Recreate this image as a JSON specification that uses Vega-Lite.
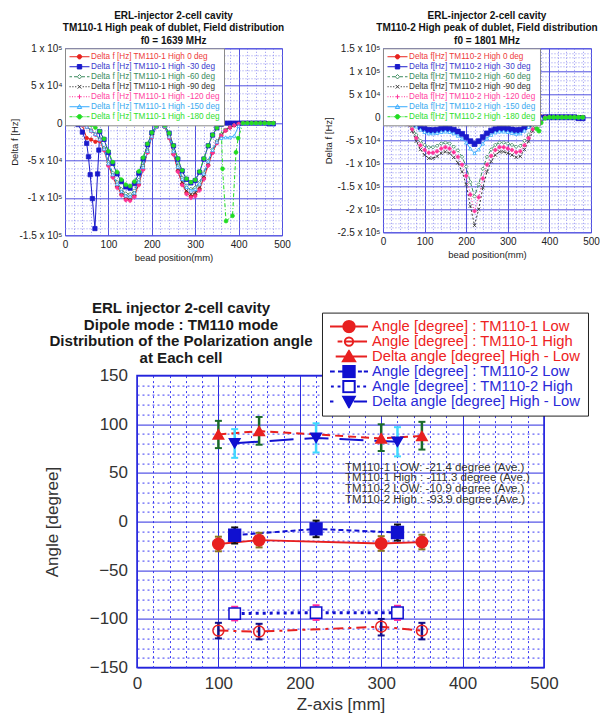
{
"$schema": "https://vega.github.io/schema/vega-lite/v6.json",
"background": "white",
"padding": {"left": 7, "top": 10.3, "right": 0, "bottom": 0},
"config": {"font": "Liberation Sans"},
"datasets": {
"tl": [
{"s":"0","x":0,"y":0},{"s":"0","x":10,"y":0},{"s":"0","x":20,"y":0},{"s":"0","x":30,"y":-500},{"s":"0","x":40,"y":-3000},{"s":"0","x":50,"y":-20000},{"s":"0","x":60,"y":-22000},{"s":"0","x":70,"y":-25000},{"s":"0","x":80,"y":-24000},{"s":"0","x":90,"y":-36000},{"s":"0","x":100,"y":-56100},{"s":"0","x":110,"y":-71400},{"s":"0","x":120,"y":-84700},{"s":"0","x":130,"y":-94900},{"s":"0","x":140,"y":-101000},{"s":"0","x":150,"y":-102000},{"s":"0","x":160,"y":-96900},{"s":"0","x":170,"y":-81600},{"s":"0","x":180,"y":-61200},{"s":"0","x":190,"y":-38800},{"s":"0","x":200,"y":-18400},{"s":"0","x":210,"y":-5100},{"s":"0","x":220,"y":0},{"s":"0","x":230,"y":-4900},{"s":"0","x":240,"y":-19600},{"s":"0","x":250,"y":-41200},{"s":"0","x":260,"y":-63700},{"s":"0","x":270,"y":-81300},{"s":"0","x":280,"y":-93100},{"s":"0","x":290,"y":-98000},{"s":"0","x":300,"y":-96000},{"s":"0","x":310,"y":-88200},{"s":"0","x":320,"y":-73500},{"s":"0","x":330,"y":-55900},{"s":"0","x":340,"y":-39200},{"s":"0","x":350,"y":-26500},{"s":"0","x":360,"y":-16700},{"s":"0","x":370,"y":-9800},{"s":"0","x":380,"y":-5900},{"s":"0","x":390,"y":-2900},{"s":"0","x":400,"y":-1000},{"s":"0","x":410,"y":0},{"s":"0","x":420,"y":0},{"s":"0","x":430,"y":0},{"s":"0","x":440,"y":0},{"s":"0","x":450,"y":0},{"s":"0","x":460,"y":0},{"s":"0","x":470,"y":0},{"s":"0","x":480,"y":0},
{"s":"-30","x":0,"y":0},{"s":"-30","x":10,"y":0},{"s":"-30","x":20,"y":0},{"s":"-30","x":30,"y":-2000},{"s":"-30","x":40,"y":-12000},{"s":"-30","x":50,"y":-27000},{"s":"-30","x":54,"y":-45000},{"s":"-30","x":58,"y":-69000},{"s":"-30","x":63,"y":-101000},{"s":"-30","x":69,"y":-141000},{"s":"-30","x":75,"y":-68000},{"s":"-30","x":78,"y":-36000},{"s":"-30","x":80,"y":-11300},{"s":"-30","x":90,"y":-21800},{"s":"-30","x":100,"y":-39200},{"s":"-30","x":110,"y":-53900},{"s":"-30","x":120,"y":-67900},{"s":"-30","x":130,"y":-78300},{"s":"-30","x":140,"y":-85300},{"s":"-30","x":150,"y":-87000},{"s":"-30","x":160,"y":-80900},{"s":"-30","x":170,"y":-67000},{"s":"-30","x":180,"y":-47900},{"s":"-30","x":190,"y":-28700},{"s":"-30","x":200,"y":-13100},{"s":"-30","x":210,"y":-3500},{"s":"-30","x":220,"y":0},{"s":"-30","x":230,"y":-3200},{"s":"-30","x":240,"y":-13600},{"s":"-30","x":250,"y":-30400},{"s":"-30","x":260,"y":-48000},{"s":"-30","x":270,"y":-64000},{"s":"-30","x":280,"y":-75200},{"s":"-30","x":290,"y":-80000},{"s":"-30","x":300,"y":-76800},{"s":"-30","x":310,"y":-65600},{"s":"-30","x":320,"y":-48000},{"s":"-30","x":330,"y":-30400},{"s":"-30","x":340,"y":-16000},{"s":"-30","x":350,"y":-6400},{"s":"-30","x":360,"y":-1600},{"s":"-30","x":370,"y":0},{"s":"-30","x":380,"y":0},{"s":"-30","x":390,"y":0},{"s":"-30","x":400,"y":0},{"s":"-30","x":410,"y":0},{"s":"-30","x":420,"y":0},{"s":"-30","x":430,"y":0},{"s":"-30","x":440,"y":0},{"s":"-30","x":450,"y":0},{"s":"-30","x":460,"y":0},{"s":"-30","x":470,"y":-1000},{"s":"-30","x":480,"y":-1000},
{"s":"-60","x":0,"y":0},{"s":"-60","x":10,"y":0},{"s":"-60","x":20,"y":0},{"s":"-60","x":30,"y":0},{"s":"-60","x":40,"y":-1900},{"s":"-60","x":50,"y":-4800},{"s":"-60","x":60,"y":-9500},{"s":"-60","x":70,"y":-14300},{"s":"-60","x":80,"y":-20900},{"s":"-60","x":90,"y":-33300},{"s":"-60","x":100,"y":-52300},{"s":"-60","x":110,"y":-66500},{"s":"-60","x":120,"y":-78900},{"s":"-60","x":130,"y":-88400},{"s":"-60","x":140,"y":-94100},{"s":"-60","x":150,"y":-95000},{"s":"-60","x":160,"y":-90300},{"s":"-60","x":170,"y":-76000},{"s":"-60","x":180,"y":-57000},{"s":"-60","x":190,"y":-36100},{"s":"-60","x":200,"y":-17100},{"s":"-60","x":210,"y":-4800},{"s":"-60","x":220,"y":0},{"s":"-60","x":230,"y":-4400},{"s":"-60","x":240,"y":-17600},{"s":"-60","x":250,"y":-37000},{"s":"-60","x":260,"y":-57200},{"s":"-60","x":270,"y":-73000},{"s":"-60","x":280,"y":-83600},{"s":"-60","x":290,"y":-88000},{"s":"-60","x":300,"y":-86200},{"s":"-60","x":310,"y":-79200},{"s":"-60","x":320,"y":-66000},{"s":"-60","x":330,"y":-50200},{"s":"-60","x":340,"y":-35200},{"s":"-60","x":350,"y":-23800},{"s":"-60","x":360,"y":-15000},{"s":"-60","x":370,"y":-8800},{"s":"-60","x":380,"y":-5300},{"s":"-60","x":390,"y":-2600},{"s":"-60","x":400,"y":-900},{"s":"-60","x":410,"y":0},{"s":"-60","x":420,"y":0},{"s":"-60","x":430,"y":0},{"s":"-60","x":440,"y":0},{"s":"-60","x":450,"y":0},{"s":"-60","x":460,"y":0},{"s":"-60","x":470,"y":0},{"s":"-60","x":480,"y":0},
{"s":"-90","x":0,"y":0},{"s":"-90","x":10,"y":0},{"s":"-90","x":20,"y":0},{"s":"-90","x":30,"y":0},{"s":"-90","x":40,"y":-2000},{"s":"-90","x":50,"y":-5000},{"s":"-90","x":60,"y":-10000},{"s":"-90","x":70,"y":-15000},{"s":"-90","x":80,"y":-22000},{"s":"-90","x":90,"y":-35000},{"s":"-90","x":100,"y":-55000},{"s":"-90","x":110,"y":-70000},{"s":"-90","x":120,"y":-83000},{"s":"-90","x":130,"y":-93000},{"s":"-90","x":140,"y":-99000},{"s":"-90","x":150,"y":-100000},{"s":"-90","x":160,"y":-95000},{"s":"-90","x":170,"y":-80000},{"s":"-90","x":180,"y":-60000},{"s":"-90","x":190,"y":-38000},{"s":"-90","x":200,"y":-18000},{"s":"-90","x":210,"y":-5000},{"s":"-90","x":220,"y":0},{"s":"-90","x":230,"y":-4800},{"s":"-90","x":240,"y":-19000},{"s":"-90","x":250,"y":-39900},{"s":"-90","x":260,"y":-61800},{"s":"-90","x":270,"y":-78900},{"s":"-90","x":280,"y":-90300},{"s":"-90","x":290,"y":-95000},{"s":"-90","x":300,"y":-93100},{"s":"-90","x":310,"y":-85500},{"s":"-90","x":320,"y":-71300},{"s":"-90","x":330,"y":-54200},{"s":"-90","x":340,"y":-38000},{"s":"-90","x":350,"y":-25700},{"s":"-90","x":360,"y":-16200},{"s":"-90","x":370,"y":-9500},{"s":"-90","x":380,"y":-5700},{"s":"-90","x":390,"y":-2900},{"s":"-90","x":400,"y":-1000},{"s":"-90","x":410,"y":0},{"s":"-90","x":420,"y":0},{"s":"-90","x":430,"y":0},{"s":"-90","x":440,"y":0},{"s":"-90","x":450,"y":0},{"s":"-90","x":460,"y":0},{"s":"-90","x":470,"y":0},{"s":"-90","x":480,"y":0},
{"s":"-120","x":0,"y":0},{"s":"-120","x":10,"y":0},{"s":"-120","x":20,"y":0},{"s":"-120","x":30,"y":0},{"s":"-120","x":40,"y":-2100},{"s":"-120","x":50,"y":-5200},{"s":"-120","x":60,"y":-10400},{"s":"-120","x":70,"y":-15600},{"s":"-120","x":80,"y":-22900},{"s":"-120","x":90,"y":-36400},{"s":"-120","x":100,"y":-57200},{"s":"-120","x":110,"y":-72800},{"s":"-120","x":120,"y":-86300},{"s":"-120","x":130,"y":-96700},{"s":"-120","x":140,"y":-103000},{"s":"-120","x":150,"y":-104000},{"s":"-120","x":160,"y":-98800},{"s":"-120","x":170,"y":-83200},{"s":"-120","x":180,"y":-62400},{"s":"-120","x":190,"y":-39500},{"s":"-120","x":200,"y":-18700},{"s":"-120","x":210,"y":-5200},{"s":"-120","x":220,"y":0},{"s":"-120","x":230,"y":-5000},{"s":"-120","x":240,"y":-20000},{"s":"-120","x":250,"y":-42000},{"s":"-120","x":260,"y":-65000},{"s":"-120","x":270,"y":-83000},{"s":"-120","x":280,"y":-95000},{"s":"-120","x":290,"y":-100000},{"s":"-120","x":300,"y":-98000},{"s":"-120","x":310,"y":-90000},{"s":"-120","x":320,"y":-75000},{"s":"-120","x":330,"y":-57000},{"s":"-120","x":340,"y":-40000},{"s":"-120","x":350,"y":-27000},{"s":"-120","x":360,"y":-17000},{"s":"-120","x":370,"y":-10000},{"s":"-120","x":380,"y":-6000},{"s":"-120","x":390,"y":-3000},{"s":"-120","x":400,"y":-1000},{"s":"-120","x":410,"y":0},{"s":"-120","x":420,"y":0},{"s":"-120","x":430,"y":0},{"s":"-120","x":440,"y":0},{"s":"-120","x":450,"y":0},{"s":"-120","x":460,"y":0},{"s":"-120","x":470,"y":0},{"s":"-120","x":480,"y":0},
{"s":"-150","x":0,"y":0},{"s":"-150","x":10,"y":0},{"s":"-150","x":20,"y":0},{"s":"-150","x":30,"y":0},{"s":"-150","x":40,"y":-2000},{"s":"-150","x":50,"y":-4900},{"s":"-150","x":60,"y":-9800},{"s":"-150","x":70,"y":-14700},{"s":"-150","x":80,"y":-21600},{"s":"-150","x":90,"y":-34300},{"s":"-150","x":100,"y":-53900},{"s":"-150","x":110,"y":-68600},{"s":"-150","x":120,"y":-81300},{"s":"-150","x":130,"y":-91100},{"s":"-150","x":140,"y":-97000},{"s":"-150","x":150,"y":-98000},{"s":"-150","x":160,"y":-93100},{"s":"-150","x":170,"y":-78400},{"s":"-150","x":180,"y":-58800},{"s":"-150","x":190,"y":-37200},{"s":"-150","x":200,"y":-17600},{"s":"-150","x":210,"y":-4900},{"s":"-150","x":220,"y":0},{"s":"-150","x":230,"y":-4500},{"s":"-150","x":240,"y":-18000},{"s":"-150","x":250,"y":-37800},{"s":"-150","x":260,"y":-58500},{"s":"-150","x":270,"y":-74700},{"s":"-150","x":280,"y":-85500},{"s":"-150","x":290,"y":-90000},{"s":"-150","x":300,"y":-88200},{"s":"-150","x":310,"y":-81000},{"s":"-150","x":320,"y":-67500},{"s":"-150","x":330,"y":-51300},{"s":"-150","x":340,"y":-36000},{"s":"-150","x":350,"y":-25000},{"s":"-150","x":360,"y":-20000},{"s":"-150","x":370,"y":-19000},{"s":"-150","x":380,"y":-19000},{"s":"-150","x":390,"y":-17000},{"s":"-150","x":400,"y":-4000},{"s":"-150","x":410,"y":0},{"s":"-150","x":420,"y":0},{"s":"-150","x":430,"y":0},{"s":"-150","x":440,"y":0},{"s":"-150","x":450,"y":0},{"s":"-150","x":460,"y":0},{"s":"-150","x":470,"y":0},{"s":"-150","x":480,"y":0},
{"s":"-180","x":0,"y":0},{"s":"-180","x":10,"y":0},{"s":"-180","x":20,"y":0},{"s":"-180","x":30,"y":0},{"s":"-180","x":40,"y":0},{"s":"-180","x":50,"y":-800},{"s":"-180","x":60,"y":-2500},{"s":"-180","x":70,"y":-5900},{"s":"-180","x":80,"y":-10900},{"s":"-180","x":90,"y":-21000},{"s":"-180","x":100,"y":-37800},{"s":"-180","x":110,"y":-52100},{"s":"-180","x":120,"y":-65500},{"s":"-180","x":130,"y":-75600},{"s":"-180","x":140,"y":-82300},{"s":"-180","x":150,"y":-84000},{"s":"-180","x":160,"y":-78100},{"s":"-180","x":170,"y":-64700},{"s":"-180","x":180,"y":-46200},{"s":"-180","x":190,"y":-27700},{"s":"-180","x":200,"y":-12600},{"s":"-180","x":210,"y":-3400},{"s":"-180","x":220,"y":0},{"s":"-180","x":230,"y":-3200},{"s":"-180","x":240,"y":-13400},{"s":"-180","x":250,"y":-30000},{"s":"-180","x":260,"y":-47400},{"s":"-180","x":270,"y":-63200},{"s":"-180","x":280,"y":-74300},{"s":"-180","x":290,"y":-79000},{"s":"-180","x":300,"y":-75800},{"s":"-180","x":310,"y":-64800},{"s":"-180","x":320,"y":-47400},{"s":"-180","x":330,"y":-30000},{"s":"-180","x":340,"y":-15800},{"s":"-180","x":350,"y":-6300},{"s":"-180","x":360,"y":-1600},{"s":"-180","x":363,"y":-61000},{"s":"-180","x":371,"y":-131000},{"s":"-180","x":386,"y":-124000},{"s":"-180","x":394,"y":-39000},{"s":"-180","x":399,"y":-20000},{"s":"-180","x":410,"y":0},{"s":"-180","x":420,"y":0},{"s":"-180","x":430,"y":0},{"s":"-180","x":440,"y":0},{"s":"-180","x":450,"y":0},{"s":"-180","x":460,"y":0},{"s":"-180","x":470,"y":0},{"s":"-180","x":480,"y":0}
],
"tr": [
{"s":"0","x":0,"y":0},{"s":"0","x":10,"y":0},{"s":"0","x":20,"y":0},{"s":"0","x":30,"y":-500},{"s":"0","x":40,"y":-1000},{"s":"0","x":50,"y":-1500},{"s":"0","x":60,"y":-2000},{"s":"0","x":70,"y":-2500},{"s":"0","x":80,"y":-3000},{"s":"0","x":90,"y":-3000},{"s":"0","x":100,"y":-3500},{"s":"0","x":110,"y":-4000},{"s":"0","x":120,"y":-4000},{"s":"0","x":130,"y":-3500},{"s":"0","x":140,"y":-3000},{"s":"0","x":150,"y":-2500},{"s":"0","x":160,"y":-3000},{"s":"0","x":170,"y":-3500},{"s":"0","x":180,"y":-4000},{"s":"0","x":190,"y":-4500},{"s":"0","x":200,"y":-5000},{"s":"0","x":210,"y":-5000},{"s":"0","x":220,"y":-5000},{"s":"0","x":230,"y":-4500},{"s":"0","x":240,"y":-4000},{"s":"0","x":250,"y":-3500},{"s":"0","x":260,"y":-3000},{"s":"0","x":270,"y":-3000},{"s":"0","x":280,"y":-3000},{"s":"0","x":290,"y":-3500},{"s":"0","x":300,"y":-4000},{"s":"0","x":310,"y":-4000},{"s":"0","x":320,"y":-4000},{"s":"0","x":330,"y":-3500},{"s":"0","x":340,"y":-3000},{"s":"0","x":350,"y":-2000},{"s":"0","x":360,"y":-1000},{"s":"0","x":370,"y":-500},{"s":"0","x":380,"y":2000},{"s":"0","x":390,"y":1000},{"s":"0","x":400,"y":0},{"s":"0","x":410,"y":0},{"s":"0","x":420,"y":0},{"s":"0","x":430,"y":0},{"s":"0","x":440,"y":0},{"s":"0","x":450,"y":0},{"s":"0","x":460,"y":0},{"s":"0","x":470,"y":0},{"s":"0","x":480,"y":0},
{"s":"-30","x":0,"y":0},{"s":"-30","x":10,"y":0},{"s":"-30","x":20,"y":0},{"s":"-30","x":30,"y":0},{"s":"-30","x":40,"y":-1000},{"s":"-30","x":50,"y":-2500},{"s":"-30","x":60,"y":-5500},{"s":"-30","x":70,"y":-10000},{"s":"-30","x":80,"y":-16000},{"s":"-30","x":90,"y":-21000},{"s":"-30","x":100,"y":-25000},{"s":"-30","x":110,"y":-27500},{"s":"-30","x":120,"y":-28000},{"s":"-30","x":130,"y":-27000},{"s":"-30","x":140,"y":-25000},{"s":"-30","x":150,"y":-24000},{"s":"-30","x":160,"y":-25000},{"s":"-30","x":170,"y":-27000},{"s":"-30","x":180,"y":-31000},{"s":"-30","x":190,"y":-36000},{"s":"-30","x":200,"y":-43000},{"s":"-30","x":210,"y":-52000},{"s":"-30","x":220,"y":-58000},{"s":"-30","x":230,"y":-52000},{"s":"-30","x":240,"y":-43000},{"s":"-30","x":250,"y":-35000},{"s":"-30","x":260,"y":-29000},{"s":"-30","x":270,"y":-26000},{"s":"-30","x":280,"y":-24000},{"s":"-30","x":290,"y":-24000},{"s":"-30","x":300,"y":-25000},{"s":"-30","x":310,"y":-26500},{"s":"-30","x":320,"y":-28000},{"s":"-30","x":330,"y":-27000},{"s":"-30","x":340,"y":-22000},{"s":"-30","x":350,"y":-16000},{"s":"-30","x":360,"y":-9000},{"s":"-30","x":370,"y":-4000},{"s":"-30","x":380,"y":-1000},{"s":"-30","x":390,"y":0},{"s":"-30","x":400,"y":0},{"s":"-30","x":410,"y":0},{"s":"-30","x":420,"y":0},{"s":"-30","x":430,"y":0},{"s":"-30","x":440,"y":0},{"s":"-30","x":450,"y":0},{"s":"-30","x":460,"y":0},{"s":"-30","x":470,"y":-2000},{"s":"-30","x":480,"y":-2000},
{"s":"-60","x":0,"y":0},{"s":"-60","x":10,"y":0},{"s":"-60","x":20,"y":0},{"s":"-60","x":30,"y":0},{"s":"-60","x":40,"y":-1500},{"s":"-60","x":50,"y":-5000},{"s":"-60","x":60,"y":-12000},{"s":"-60","x":70,"y":-22000},{"s":"-60","x":80,"y":-38000},{"s":"-60","x":90,"y":-51000},{"s":"-60","x":100,"y":-60000},{"s":"-60","x":110,"y":-65000},{"s":"-60","x":120,"y":-65000},{"s":"-60","x":130,"y":-62000},{"s":"-60","x":140,"y":-57000},{"s":"-60","x":150,"y":-55000},{"s":"-60","x":160,"y":-57000},{"s":"-60","x":170,"y":-64000},{"s":"-60","x":180,"y":-72000},{"s":"-60","x":190,"y":-86000},{"s":"-60","x":200,"y":-107000},{"s":"-60","x":210,"y":-141000},{"s":"-60","x":220,"y":-172000},{"s":"-60","x":230,"y":-146000},{"s":"-60","x":240,"y":-112000},{"s":"-60","x":250,"y":-86000},{"s":"-60","x":260,"y":-70000},{"s":"-60","x":270,"y":-60000},{"s":"-60","x":280,"y":-55000},{"s":"-60","x":290,"y":-55000},{"s":"-60","x":300,"y":-57000},{"s":"-60","x":310,"y":-60000},{"s":"-60","x":320,"y":-64000},{"s":"-60","x":330,"y":-62000},{"s":"-60","x":340,"y":-51000},{"s":"-60","x":350,"y":-38000},{"s":"-60","x":360,"y":-22000},{"s":"-60","x":370,"y":-10000},{"s":"-60","x":380,"y":-4000},{"s":"-60","x":390,"y":0},{"s":"-60","x":400,"y":0},{"s":"-60","x":410,"y":0},{"s":"-60","x":420,"y":0},{"s":"-60","x":430,"y":0},{"s":"-60","x":440,"y":0},{"s":"-60","x":450,"y":0},{"s":"-60","x":460,"y":0},{"s":"-60","x":470,"y":0},{"s":"-60","x":480,"y":0},
{"s":"-90","x":0,"y":0},{"s":"-90","x":10,"y":0},{"s":"-90","x":20,"y":0},{"s":"-90","x":30,"y":0},{"s":"-90","x":40,"y":-2000},{"s":"-90","x":50,"y":-7000},{"s":"-90","x":60,"y":-16000},{"s":"-90","x":70,"y":-30000},{"s":"-90","x":80,"y":-52000},{"s":"-90","x":90,"y":-70000},{"s":"-90","x":100,"y":-82000},{"s":"-90","x":110,"y":-89000},{"s":"-90","x":120,"y":-89000},{"s":"-90","x":130,"y":-85000},{"s":"-90","x":140,"y":-78000},{"s":"-90","x":150,"y":-75000},{"s":"-90","x":160,"y":-78000},{"s":"-90","x":170,"y":-87000},{"s":"-90","x":180,"y":-99000},{"s":"-90","x":190,"y":-118000},{"s":"-90","x":200,"y":-146000},{"s":"-90","x":210,"y":-193000},{"s":"-90","x":220,"y":-235000},{"s":"-90","x":230,"y":-200000},{"s":"-90","x":240,"y":-153000},{"s":"-90","x":250,"y":-118000},{"s":"-90","x":260,"y":-96000},{"s":"-90","x":270,"y":-82000},{"s":"-90","x":280,"y":-75000},{"s":"-90","x":290,"y":-75000},{"s":"-90","x":300,"y":-78000},{"s":"-90","x":310,"y":-82000},{"s":"-90","x":320,"y":-87000},{"s":"-90","x":330,"y":-85000},{"s":"-90","x":340,"y":-70000},{"s":"-90","x":350,"y":-52000},{"s":"-90","x":360,"y":-30000},{"s":"-90","x":370,"y":-14000},{"s":"-90","x":380,"y":-5000},{"s":"-90","x":390,"y":0},{"s":"-90","x":400,"y":0},{"s":"-90","x":410,"y":0},{"s":"-90","x":420,"y":0},{"s":"-90","x":430,"y":0},{"s":"-90","x":440,"y":0},{"s":"-90","x":450,"y":0},{"s":"-90","x":460,"y":0},{"s":"-90","x":470,"y":0},{"s":"-90","x":480,"y":0},
{"s":"-120","x":0,"y":0},{"s":"-120","x":10,"y":0},{"s":"-120","x":20,"y":0},{"s":"-120","x":30,"y":0},{"s":"-120","x":40,"y":-2000},{"s":"-120","x":50,"y":-6000},{"s":"-120","x":60,"y":-14000},{"s":"-120","x":70,"y":-26000},{"s":"-120","x":80,"y":-45000},{"s":"-120","x":90,"y":-61000},{"s":"-120","x":100,"y":-71000},{"s":"-120","x":110,"y":-77000},{"s":"-120","x":120,"y":-77000},{"s":"-120","x":130,"y":-74000},{"s":"-120","x":140,"y":-68000},{"s":"-120","x":150,"y":-65000},{"s":"-120","x":160,"y":-68000},{"s":"-120","x":170,"y":-76000},{"s":"-120","x":180,"y":-86000},{"s":"-120","x":190,"y":-103000},{"s":"-120","x":200,"y":-127000},{"s":"-120","x":210,"y":-168000},{"s":"-120","x":220,"y":-204000},{"s":"-120","x":230,"y":-174000},{"s":"-120","x":240,"y":-133000},{"s":"-120","x":250,"y":-103000},{"s":"-120","x":260,"y":-84000},{"s":"-120","x":270,"y":-71000},{"s":"-120","x":280,"y":-65000},{"s":"-120","x":290,"y":-65000},{"s":"-120","x":300,"y":-68000},{"s":"-120","x":310,"y":-71000},{"s":"-120","x":320,"y":-76000},{"s":"-120","x":330,"y":-74000},{"s":"-120","x":340,"y":-61000},{"s":"-120","x":350,"y":-45000},{"s":"-120","x":360,"y":-26000},{"s":"-120","x":370,"y":-12000},{"s":"-120","x":380,"y":-4000},{"s":"-120","x":390,"y":0},{"s":"-120","x":400,"y":0},{"s":"-120","x":410,"y":0},{"s":"-120","x":420,"y":0},{"s":"-120","x":430,"y":0},{"s":"-120","x":440,"y":0},{"s":"-120","x":450,"y":0},{"s":"-120","x":460,"y":0},{"s":"-120","x":470,"y":0},{"s":"-120","x":480,"y":0},
{"s":"-150","x":0,"y":0},{"s":"-150","x":10,"y":0},{"s":"-150","x":20,"y":0},{"s":"-150","x":30,"y":0},{"s":"-150","x":40,"y":-1000},{"s":"-150","x":50,"y":-3000},{"s":"-150","x":60,"y":-7000},{"s":"-150","x":70,"y":-12000},{"s":"-150","x":80,"y":-20000},{"s":"-150","x":90,"y":-27000},{"s":"-150","x":100,"y":-32000},{"s":"-150","x":110,"y":-35000},{"s":"-150","x":120,"y":-35000},{"s":"-150","x":130,"y":-34000},{"s":"-150","x":140,"y":-32000},{"s":"-150","x":150,"y":-31000},{"s":"-150","x":160,"y":-32000},{"s":"-150","x":170,"y":-35000},{"s":"-150","x":180,"y":-40000},{"s":"-150","x":190,"y":-46000},{"s":"-150","x":200,"y":-55000},{"s":"-150","x":210,"y":-68000},{"s":"-150","x":220,"y":-78000},{"s":"-150","x":230,"y":-70000},{"s":"-150","x":240,"y":-57000},{"s":"-150","x":250,"y":-46000},{"s":"-150","x":260,"y":-38000},{"s":"-150","x":270,"y":-33000},{"s":"-150","x":280,"y":-31000},{"s":"-150","x":290,"y":-31000},{"s":"-150","x":300,"y":-32000},{"s":"-150","x":310,"y":-34000},{"s":"-150","x":320,"y":-36000},{"s":"-150","x":330,"y":-35000},{"s":"-150","x":340,"y":-29000},{"s":"-150","x":350,"y":-21000},{"s":"-150","x":360,"y":-12000},{"s":"-150","x":370,"y":-6000},{"s":"-150","x":380,"y":-2000},{"s":"-150","x":390,"y":0},{"s":"-150","x":400,"y":0},{"s":"-150","x":410,"y":0},{"s":"-150","x":420,"y":0},{"s":"-150","x":430,"y":0},{"s":"-150","x":440,"y":0},{"s":"-150","x":450,"y":0},{"s":"-150","x":460,"y":0},{"s":"-150","x":470,"y":0},{"s":"-150","x":480,"y":0},
{"s":"-180","x":0,"y":-1000},{"s":"-180","x":10,"y":-1500},{"s":"-180","x":20,"y":-2000},{"s":"-180","x":30,"y":-3000},{"s":"-180","x":40,"y":-4000},{"s":"-180","x":50,"y":-6000},{"s":"-180","x":60,"y":-8000},{"s":"-180","x":70,"y":-9000},{"s":"-180","x":80,"y":-9000},{"s":"-180","x":90,"y":-8000},{"s":"-180","x":100,"y":-6000},{"s":"-180","x":110,"y":-7000},{"s":"-180","x":120,"y":-10000},{"s":"-180","x":130,"y":-11000},{"s":"-180","x":140,"y":-9000},{"s":"-180","x":150,"y":-6000},{"s":"-180","x":160,"y":-5000},{"s":"-180","x":170,"y":-7000},{"s":"-180","x":180,"y":-10000},{"s":"-180","x":190,"y":-11000},{"s":"-180","x":200,"y":-9000},{"s":"-180","x":210,"y":-6000},{"s":"-180","x":220,"y":-5000},{"s":"-180","x":230,"y":-7000},{"s":"-180","x":240,"y":-10000},{"s":"-180","x":250,"y":-11000},{"s":"-180","x":260,"y":-9000},{"s":"-180","x":270,"y":-6000},{"s":"-180","x":280,"y":-5000},{"s":"-180","x":290,"y":-7000},{"s":"-180","x":300,"y":-10000},{"s":"-180","x":310,"y":-11000},{"s":"-180","x":320,"y":-9000},{"s":"-180","x":330,"y":-6000},{"s":"-180","x":340,"y":-5000},{"s":"-180","x":350,"y":-7000},{"s":"-180","x":360,"y":-9000},{"s":"-180","x":370,"y":-25000},{"s":"-180","x":375,"y":-30000},{"s":"-180","x":380,"y":-12000},{"s":"-180","x":390,"y":-2000},{"s":"-180","x":400,"y":0},{"s":"-180","x":410,"y":0},{"s":"-180","x":420,"y":0},{"s":"-180","x":430,"y":0},{"s":"-180","x":440,"y":0},{"s":"-180","x":450,"y":0},{"s":"-180","x":460,"y":0},{"s":"-180","x":470,"y":0},{"s":"-180","x":480,"y":0}
],
"bot": [
{"s":"1L","z":100,"a":-23,"lo":-30.5,"hi":-15.5},
{"s":"1L","z":150,"a":-19,"lo":-26.5,"hi":-11.5},
{"s":"1L","z":300,"a":-22.5,"lo":-30,"hi":-15},
{"s":"1L","z":350,"a":-21,"lo":-28.5,"hi":-13.5},
{"s":"1H","z":100,"a":-112,"lo":-120,"hi":-104},
{"s":"1H","z":150,"a":-113,"lo":-121,"hi":-105},
{"s":"1H","z":300,"a":-108,"lo":-117,"hi":-100},
{"s":"1H","z":350,"a":-112,"lo":-121,"hi":-104},
{"s":"1D","z":100,"a":89.5,"lo":75.5,"hi":103.5},
{"s":"1D","z":150,"a":93,"lo":79,"hi":107.5},
{"s":"1D","z":300,"a":85.5,"lo":72.5,"hi":100},
{"s":"1D","z":350,"a":88,"lo":74,"hi":102.5},
{"s":"2L","z":120,"a":-14,"lo":-22.5,"hi":-6},
{"s":"2L","z":220,"a":-7.5,"lo":-16,"hi":1},
{"s":"2L","z":320,"a":-11.2,"lo":-19.5,"hi":-3},
{"s":"2H","z":120,"a":-94.5,"lo":-101.5,"hi":-87.5},
{"s":"2H","z":220,"a":-93.5,"lo":-101,"hi":-86},
{"s":"2H","z":320,"a":-93.7,"lo":-101,"hi":-86.5},
{"s":"2D","z":120,"a":80.5,"lo":65.5,"hi":95},
{"s":"2D","z":220,"a":86,"lo":71,"hi":101},
{"s":"2D","z":320,"a":82,"lo":67,"hi":97}
],
"notes": [
{"lines": ["TM110-1 LOW: -21.4 degree (Ave.)", "TM110-1 High : -111.3 degree (Ave.)", "TM110-2 LOW: -10.9 degree (Ave.)", "TM110-2 High : -93.9 degree (Ave.)"]}
]
},
"spacing": 37.3,
"resolve": {"scale": {"color": "independent"}, "legend": {"color": "independent"}},
"vconcat": [
{
"spacing": 0,
"resolve": {"scale": {"color": "independent"}, "legend": {"color": "independent"}},
"hconcat": [
{"width": 1, "height": 10, "view": {"stroke": null}, "data": {"values": []}, "mark": "point"},
{
"spacing": 32,
"resolve": {"scale": {"color": "independent"}, "legend": {"color": "independent"}},
"hconcat": [
{
"width": 217, "height": 187,
"view": {"stroke": "#5050e0", "strokeWidth": 1},
"title": {"text": ["ERL-injector 2-cell cavity", "TM110-1 High peak of dublet, Field distribution", "f0 = 1639 MHz"], "fontSize": 10, "fontWeight": "bold", "lineHeight": 12.3, "offset": -2.3, "color": "#111111"},
"data": {"name": "tl"},
"encoding": {
"x": {"field": "x", "type": "quantitative", "title": "bead position(mm)", "scale": {"domain": [0, 500], "nice": false, "zero": false},
 "axis": {"values": [0,20,40,60,80,100,120,140,160,180,200,220,240,260,280,300,320,340,360,380,400,420,440,460,480,500], "labelExpr": "datum.value % 100 === 0 ? datum.label : ''", "grid": true, "gridColor": {"condition": {"test": "datum.value % 100 === 0", "value": "#5050e0"}, "value": "#9494f2"}, "gridDash": {"condition": {"test": "datum.value % 100 === 0", "value": []}, "value": [1, 2]}, "ticks": false, "domain": false, "labelFontSize": 10, "labelColor": "#222222", "labelPadding": 4, "labelFlush": false, "labelOverlap": false, "titleFontSize": 9.5, "titleFontWeight": "normal", "titleColor": "#222222", "titlePadding": 3}},
"y": {"field": "y", "type": "quantitative", "title": "Delta f [Hz]", "scale": {"domain": [-150000, 100000], "nice": false, "zero": false},
 "axis": {"values": [-150000,-140000,-130000,-120000,-110000,-100000,-90000,-80000,-70000,-60000,-50000,-40000,-30000,-20000,-10000,0,10000,20000,30000,40000,50000,60000,70000,80000,90000,100000], "labelExpr": "datum.value % 50000 !== 0 ? '' : datum.value === 0 ? '0' : abs(datum.value) >= 100000 ? (datum.value / 100000) + ' x 10⁵' : (datum.value / 10000) + ' x 10⁴'", "grid": true, "gridColor": {"condition": {"test": "datum.value % 50000 === 0", "value": "#5050e0"}, "value": "#9494f2"}, "gridDash": {"condition": {"test": "datum.value % 50000 === 0", "value": []}, "value": [1, 2]}, "ticks": false, "domain": false, "labelFontSize": 10, "labelColor": "#222222", "labelPadding": 3, "labelOverlap": false, "labelFlush": false, "titleFontSize": 9.5, "titleFontWeight": "normal", "titleColor": "#222222", "titleX": -46}}
},
"layer": [
{"transform": [{"filter": "datum.s === '0'"}], "mark": {"type": "line", "strokeWidth": 1, "clip": true},
 "encoding": {"color": {"field": "s", "type": "nominal", "scale": {"domain": ["0","-30","-60","-90","-120","-150","-180"], "range": ["#e8231e","#1a1acc","#3a8a5c","#333333","#ff3399","#33aaff","#22dd22"]},
  "legend": {"orient": "top-left", "offset": 0, "title": null, "fillColor": "white", "strokeColor": "#8a8a8a", "padding": 4, "labelFontSize": 8.2, "labelLimit": 300, "labelOffset": 1, "rowPadding": 0, "clipHeight": 8.9, "symbolSize": 400, "symbolStrokeWidth": 1,
   "labelExpr": "'Delta f [Hz] TM110-1 High ' + datum.label + ' deg'",
   "labelColor": {"expr": "['#ee3b3b','#3a3acc','#3a8a5c','#333333','#ff3fa0','#3aaaf0','#2ee02e'][datum.index]"},
   "symbolType": {"expr": "['M-1,0H1M0.22,0A0.22,0.22,0,1,1,-0.22,0A0.22,0.22,0,1,1,0.22,0Z','M-1,0H1M-0.22,-0.22H0.22V0.22H-0.22Z','M-1,0H-0.75M-0.55,0H-0.25M0.25,0H0.55M0.75,0H1M0,-0.22L0.22,0L0,0.22L-0.22,0Z','M-1,0H-0.88M-0.72,0H-0.6M-0.44,0H-0.32M0.32,0H0.44M0.6,0H0.72M0.88,0H1M-0.18,-0.18L0.18,0.18M-0.18,0.18L0.18,-0.18','M-1,0H-0.9M-0.75,0H-0.65M-0.5,0H-0.4M0.4,0H0.5M0.65,0H0.75M0.9,0H1M-0.22,0H0.22M0,-0.22V0.22','M-1,0H1M0,-0.22L0.22,0.17L-0.22,0.17Z','M-1,0H-0.7M-0.6,0H-0.5M-0.4,0H-0.25M0.25,0H0.4M0.5,0H0.6M0.7,0H1M0.22,0A0.22,0.22,0,1,1,-0.22,0A0.22,0.22,0,1,1,0.22,0Z'][datum.index]"},
   "symbolFillColor": {"expr": "['#e8231e','#1a1acc','white','transparent','transparent','white','#22dd22'][datum.index]"}}}}},
{"transform": [{"filter": "datum.s === '-30'"}], "mark": {"type": "line", "strokeWidth": 1, "clip": true}, "encoding": {"color": {"field": "s", "type": "nominal", "scale": {"domain": ["0","-30","-60","-90","-120","-150","-180"], "range": ["#e8231e","#1a1acc","#3a8a5c","#333333","#ff3399","#33aaff","#22dd22"]}}}},
{"transform": [{"filter": "datum.s === '-60'"}], "mark": {"type": "line", "strokeWidth": 1, "strokeDash": [4, 2], "clip": true}, "encoding": {"color": {"field": "s", "type": "nominal", "scale": {"domain": ["0","-30","-60","-90","-120","-150","-180"], "range": ["#e8231e","#1a1acc","#3a8a5c","#333333","#ff3399","#33aaff","#22dd22"]}}}},
{"transform": [{"filter": "datum.s === '-90'"}], "mark": {"type": "line", "strokeWidth": 1, "strokeDash": [2, 2], "clip": true}, "encoding": {"color": {"field": "s", "type": "nominal", "scale": {"domain": ["0","-30","-60","-90","-120","-150","-180"], "range": ["#e8231e","#1a1acc","#3a8a5c","#333333","#ff3399","#33aaff","#22dd22"]}}}},
{"transform": [{"filter": "datum.s === '-120'"}], "mark": {"type": "line", "strokeWidth": 1, "strokeDash": [1, 2], "clip": true}, "encoding": {"color": {"field": "s", "type": "nominal", "scale": {"domain": ["0","-30","-60","-90","-120","-150","-180"], "range": ["#e8231e","#1a1acc","#3a8a5c","#333333","#ff3399","#33aaff","#22dd22"]}}}},
{"transform": [{"filter": "datum.s === '-150'"}], "mark": {"type": "line", "strokeWidth": 1, "clip": true}, "encoding": {"color": {"field": "s", "type": "nominal", "scale": {"domain": ["0","-30","-60","-90","-120","-150","-180"], "range": ["#e8231e","#1a1acc","#3a8a5c","#333333","#ff3399","#33aaff","#22dd22"]}}}},
{"transform": [{"filter": "datum.s === '-180'"}], "mark": {"type": "line", "strokeWidth": 1, "strokeDash": [4, 2, 1, 2], "clip": true}, "encoding": {"color": {"field": "s", "type": "nominal", "scale": {"domain": ["0","-30","-60","-90","-120","-150","-180"], "range": ["#e8231e","#1a1acc","#3a8a5c","#333333","#ff3399","#33aaff","#22dd22"]}}}},
{"transform": [{"filter": "datum.s === '0'"}], "mark": {"type": "point", "shape": "circle", "filled": false, "fill": "#e8231e", "stroke": "#e8231e", "size": 12, "strokeWidth": 0.8, "opacity": 1, "clip": true}},
{"transform": [{"filter": "datum.s === '-30'"}], "mark": {"type": "point", "shape": "square", "filled": false, "fill": "#1a1acc", "stroke": "#1a1acc", "size": 18, "strokeWidth": 0.8, "opacity": 1, "clip": true}},
{"transform": [{"filter": "datum.s === '-60'"}], "mark": {"type": "point", "shape": "diamond", "filled": false, "fill": "white", "stroke": "#3a8a5c", "size": 12, "strokeWidth": 0.8, "opacity": 1, "clip": true}},
{"transform": [{"filter": "datum.s === '-90'"}], "mark": {"type": "point", "shape": "M-1,-1L1,1M-1,1L1,-1", "filled": false, "fill": "transparent", "stroke": "#333333", "size": 12, "strokeWidth": 0.8, "opacity": 1, "clip": true}},
{"transform": [{"filter": "datum.s === '-120'"}], "mark": {"type": "point", "shape": "cross", "filled": false, "fill": "#ff3399", "stroke": "#ff3399", "size": 12, "strokeWidth": 0.6, "opacity": 1, "clip": true}},
{"transform": [{"filter": "datum.s === '-150'"}], "mark": {"type": "point", "shape": "triangle-up", "filled": false, "fill": "white", "stroke": "#33aaff", "size": 12, "strokeWidth": 0.8, "opacity": 1, "clip": true}},
{"transform": [{"filter": "datum.s === '-180'"}], "mark": {"type": "point", "shape": "circle", "filled": false, "fill": "#22dd22", "stroke": "#22dd22", "size": 14, "strokeWidth": 0.8, "opacity": 1, "clip": true}}
]
},
{
"width": 208, "height": 184,
"view": {"stroke": "#5050e0", "strokeWidth": 1},
"title": {"text": ["ERL-injector 2-cell cavity", "TM110-2 High peak of dublet, Field distribution", "f0 = 1801 MHz"], "fontSize": 10, "fontWeight": "bold", "lineHeight": 12.3, "offset": -2.3, "color": "#111111"},
"data": {"name": "tr"},
"encoding": {
"x": {"field": "x", "type": "quantitative", "title": "bead position(mm)", "scale": {"domain": [0, 500], "nice": false, "zero": false},
 "axis": {"values": [0,20,40,60,80,100,120,140,160,180,200,220,240,260,280,300,320,340,360,380,400,420,440,460,480,500], "labelExpr": "datum.value % 100 === 0 ? datum.label : ''", "grid": true, "gridColor": {"condition": {"test": "datum.value % 100 === 0", "value": "#5050e0"}, "value": "#9494f2"}, "gridDash": {"condition": {"test": "datum.value % 100 === 0", "value": []}, "value": [1, 2]}, "ticks": false, "domain": false, "labelFontSize": 10, "labelColor": "#222222", "labelPadding": 4, "labelFlush": false, "labelOverlap": false, "titleFontSize": 9.5, "titleFontWeight": "normal", "titleColor": "#222222", "titlePadding": 3}},
"y": {"field": "y", "type": "quantitative", "title": "Delta f [Hz]", "scale": {"domain": [-250000, 150000], "nice": false, "zero": false},
 "axis": {"values": [-250000,-240000,-230000,-220000,-210000,-200000,-190000,-180000,-170000,-160000,-150000,-140000,-130000,-120000,-110000,-100000,-90000,-80000,-70000,-60000,-50000,-40000,-30000,-20000,-10000,0,10000,20000,30000,40000,50000,60000,70000,80000,90000,100000,110000,120000,130000,140000,150000], "labelExpr": "datum.value % 50000 !== 0 ? '' : datum.value === 0 ? '0' : abs(datum.value) >= 100000 ? (datum.value / 100000) + ' x 10⁵' : (datum.value / 10000) + ' x 10⁴'", "grid": true, "gridColor": {"condition": {"test": "datum.value % 50000 === 0", "value": "#5050e0"}, "value": "#9494f2"}, "gridDash": {"condition": {"test": "datum.value % 50000 === 0", "value": []}, "value": [1, 2]}, "ticks": false, "domain": false, "labelFontSize": 10, "labelColor": "#222222", "labelPadding": 3, "labelOverlap": false, "labelFlush": false, "titleFontSize": 9.5, "titleFontWeight": "normal", "titleColor": "#222222", "titleX": -49.5}}
},
"layer": [
{"transform": [{"filter": "datum.s === '0'"}], "mark": {"type": "line", "strokeWidth": 1, "clip": true},
 "encoding": {"color": {"field": "s", "type": "nominal", "scale": {"domain": ["0","-30","-60","-90","-120","-150","-180"], "range": ["#e8231e","#1a1acc","#3a8a5c","#333333","#ff3399","#33aaff","#22dd22"]},
  "legend": {"orient": "top-left", "offset": 0, "title": null, "fillColor": "white", "strokeColor": "#8a8a8a", "padding": 4, "labelFontSize": 8.2, "labelLimit": 300, "labelOffset": 1, "rowPadding": 0, "clipHeight": 8.9, "symbolSize": 400, "symbolStrokeWidth": 1,
   "labelExpr": "'Delta f[Hz] TM110-2 High ' + datum.label + ' deg'",
   "labelColor": {"expr": "['#ee3b3b','#3a3acc','#3a8a5c','#333333','#ff3fa0','#3aaaf0','#2ee02e'][datum.index]"},
   "symbolType": {"expr": "['M-1,0H1M0.22,0A0.22,0.22,0,1,1,-0.22,0A0.22,0.22,0,1,1,0.22,0Z','M-1,0H1M-0.22,-0.22H0.22V0.22H-0.22Z','M-1,0H-0.75M-0.55,0H-0.25M0.25,0H0.55M0.75,0H1M0,-0.22L0.22,0L0,0.22L-0.22,0Z','M-1,0H-0.88M-0.72,0H-0.6M-0.44,0H-0.32M0.32,0H0.44M0.6,0H0.72M0.88,0H1M-0.18,-0.18L0.18,0.18M-0.18,0.18L0.18,-0.18','M-1,0H-0.9M-0.75,0H-0.65M-0.5,0H-0.4M0.4,0H0.5M0.65,0H0.75M0.9,0H1M-0.22,0H0.22M0,-0.22V0.22','M-1,0H1M0,-0.22L0.22,0.17L-0.22,0.17Z','M-1,0H-0.7M-0.6,0H-0.5M-0.4,0H-0.25M0.25,0H0.4M0.5,0H0.6M0.7,0H1M0.22,0A0.22,0.22,0,1,1,-0.22,0A0.22,0.22,0,1,1,0.22,0Z'][datum.index]"},
   "symbolFillColor": {"expr": "['#e8231e','#1a1acc','white','transparent','transparent','white','#22dd22'][datum.index]"}}}}},
{"transform": [{"filter": "datum.s === '-30'"}], "mark": {"type": "line", "strokeWidth": 1, "clip": true}, "encoding": {"color": {"field": "s", "type": "nominal", "scale": {"domain": ["0","-30","-60","-90","-120","-150","-180"], "range": ["#e8231e","#1a1acc","#3a8a5c","#333333","#ff3399","#33aaff","#22dd22"]}}}},
{"transform": [{"filter": "datum.s === '-60'"}], "mark": {"type": "line", "strokeWidth": 1, "strokeDash": [4, 2], "clip": true}, "encoding": {"color": {"field": "s", "type": "nominal", "scale": {"domain": ["0","-30","-60","-90","-120","-150","-180"], "range": ["#e8231e","#1a1acc","#3a8a5c","#333333","#ff3399","#33aaff","#22dd22"]}}}},
{"transform": [{"filter": "datum.s === '-90'"}], "mark": {"type": "line", "strokeWidth": 1, "strokeDash": [2, 2], "clip": true}, "encoding": {"color": {"field": "s", "type": "nominal", "scale": {"domain": ["0","-30","-60","-90","-120","-150","-180"], "range": ["#e8231e","#1a1acc","#3a8a5c","#333333","#ff3399","#33aaff","#22dd22"]}}}},
{"transform": [{"filter": "datum.s === '-120'"}], "mark": {"type": "line", "strokeWidth": 1, "strokeDash": [1, 2], "clip": true}, "encoding": {"color": {"field": "s", "type": "nominal", "scale": {"domain": ["0","-30","-60","-90","-120","-150","-180"], "range": ["#e8231e","#1a1acc","#3a8a5c","#333333","#ff3399","#33aaff","#22dd22"]}}}},
{"transform": [{"filter": "datum.s === '-150'"}], "mark": {"type": "line", "strokeWidth": 1, "clip": true}, "encoding": {"color": {"field": "s", "type": "nominal", "scale": {"domain": ["0","-30","-60","-90","-120","-150","-180"], "range": ["#e8231e","#1a1acc","#3a8a5c","#333333","#ff3399","#33aaff","#22dd22"]}}}},
{"transform": [{"filter": "datum.s === '-180'"}], "mark": {"type": "line", "strokeWidth": 1, "strokeDash": [4, 2, 1, 2], "clip": true}, "encoding": {"color": {"field": "s", "type": "nominal", "scale": {"domain": ["0","-30","-60","-90","-120","-150","-180"], "range": ["#e8231e","#1a1acc","#3a8a5c","#333333","#ff3399","#33aaff","#22dd22"]}}}},
{"transform": [{"filter": "datum.s === '0'"}], "mark": {"type": "point", "shape": "circle", "filled": false, "fill": "#e8231e", "stroke": "#e8231e", "size": 12, "strokeWidth": 0.8, "opacity": 1, "clip": true}},
{"transform": [{"filter": "datum.s === '-30'"}], "mark": {"type": "point", "shape": "square", "filled": false, "fill": "#1a1acc", "stroke": "#1a1acc", "size": 24, "strokeWidth": 0.8, "opacity": 1, "clip": true}},
{"transform": [{"filter": "datum.s === '-60'"}], "mark": {"type": "point", "shape": "diamond", "filled": false, "fill": "white", "stroke": "#3a8a5c", "size": 12, "strokeWidth": 0.8, "opacity": 1, "clip": true}},
{"transform": [{"filter": "datum.s === '-90'"}], "mark": {"type": "point", "shape": "M-1,-1L1,1M-1,1L1,-1", "filled": false, "fill": "transparent", "stroke": "#333333", "size": 12, "strokeWidth": 0.8, "opacity": 1, "clip": true}},
{"transform": [{"filter": "datum.s === '-120'"}], "mark": {"type": "point", "shape": "cross", "filled": false, "fill": "#ff3399", "stroke": "#ff3399", "size": 12, "strokeWidth": 0.6, "opacity": 1, "clip": true}},
{"transform": [{"filter": "datum.s === '-150'"}], "mark": {"type": "point", "shape": "triangle-up", "filled": false, "fill": "white", "stroke": "#33aaff", "size": 12, "strokeWidth": 0.8, "opacity": 1, "clip": true}},
{"transform": [{"filter": "datum.s === '-180'"}], "mark": {"type": "point", "shape": "circle", "filled": false, "fill": "#22dd22", "stroke": "#22dd22", "size": 16, "strokeWidth": 0.8, "opacity": 1, "clip": true}}
]
}
]
}
]
},
{
"spacing": 0,
"resolve": {"scale": {"color": "independent"}, "legend": {"color": "independent"}},
"hconcat": [
{"width": 35, "height": 10, "view": {"stroke": null}, "data": {"values": []}, "mark": "point"},
{
"width": 407, "height": 292,
"view": {"stroke": "#2020d8", "strokeWidth": 1.5},
"title": {"text": ["ERL injector 2-cell cavity", "Dipole mode : TM110 mode", "Distribution of the Polarization angle", "at Each cell"], "fontSize": 15.1, "fontWeight": "bold", "lineHeight": 16.5, "anchor": "start", "frame": "group", "align": "center", "dx": 44, "dy": 54.7, "offset": 1, "color": "#1a1a1a"},
"data": {"name": "bot"},
"layer": [
{
"encoding": {
"x": {"field": "z", "type": "quantitative", "title": "Z-axis [mm]", "scale": {"domain": [0, 500], "nice": false, "zero": false},
 "axis": {"values": [0,20,40,60,80,100,120,140,160,180,200,220,240,260,280,300,320,340,360,380,400,420,440,460,480,500], "labelExpr": "datum.value % 100 === 0 ? datum.label : ''", "grid": true, "gridColor": {"condition": {"test": "datum.value % 100 === 0", "value": "#2a2ae0"}, "value": "#3a3af5"}, "gridDash": {"condition": {"test": "datum.value % 100 === 0", "value": []}, "value": [2, 3]}, "ticks": false, "domain": false, "labelFontSize": 17, "labelColor": "#333333", "labelPadding": 8, "labelFlush": false, "labelOverlap": false, "titleFontSize": 17, "titleFontWeight": "normal", "titleColor": "#333333", "titlePadding": 5}},
"y": {"field": "a", "type": "quantitative", "title": "Angle [degree]", "scale": {"domain": [-150, 150], "nice": false, "zero": false},
 "axis": {"values": [-150,-140,-130,-120,-110,-100,-90,-80,-70,-60,-50,-40,-30,-20,-10,0,10,20,30,40,50,60,70,80,90,100,110,120,130,140,150], "labelExpr": "datum.value % 50 === 0 ? datum.label : ''", "grid": true, "gridColor": {"condition": {"test": "datum.value % 50 === 0", "value": "#2a2ae0"}, "value": "#3a3af5"}, "gridDash": {"condition": {"test": "datum.value % 50 === 0", "value": []}, "value": [2, 3]}, "ticks": false, "domain": false, "labelFontSize": 17, "labelColor": "#333333", "labelPadding": 9.5, "labelOverlap": false, "labelFlush": false, "titleFontSize": 17, "titleFontWeight": "normal", "titleColor": "#333333", "titleX": -76}}
},
"layer": [
{"transform": [{"filter": "datum.s === '1L'"}], "mark": {"type": "line", "strokeWidth": 1.8},
 "encoding": {"color": {"field": "s", "type": "nominal", "scale": {"domain": ["1L","1H","1D","2L","2H","2D"], "range": ["#e82020","#e82020","#e82020","#1010d0","#1010d0","#1010d0"]},
  "legend": {"orient": "none", "legendX": 185, "legendY": -63, "title": null, "fillColor": "white", "strokeColor": "#222222", "padding": 7, "labelFontSize": 14.8, "labelLimit": 400, "labelOffset": 3, "rowPadding": 0, "clipHeight": 14, "symbolSize": 1444, "symbolStrokeWidth": 2,
   "labelExpr": "['Angle [degree] : TM110-1 Low','Angle [degree] : TM110-1 High','Delta angle [degree] High - Low','Angle [degree] : TM110-2 Low','Angle [degree] : TM110-2 High','Delta angle [degree] High - Low'][datum.index]",
   "labelColor": {"expr": "datum.index < 3 ? '#ee2222' : '#2a2ad8'"},
   "symbolType": {"expr": "['M-1,0H1M0.3,0A0.3,0.3,0,1,1,-0.3,0A0.3,0.3,0,1,1,0.3,0Z','M-0.6,0H-0.35M-0.22,0H0.95M0.22,0A0.22,0.22,0,1,1,-0.22,0A0.22,0.22,0,1,1,0.22,0Z','M-0.7,0H-0.2M0.2,0H0.95M0,-0.3L0.32,0.25L-0.32,0.25Z','M-1,0H-0.75M-0.58,0H-0.32M0.47,0H0.68M0.78,0H1M-0.3,-0.3H0.3V0.3H-0.3Z','M-0.95,0H-0.8M-0.6,0H-0.45M0.42,0H0.57M0.75,0H0.9M-0.3,-0.3H0.3V0.3H-0.3Z','M-1,0H-0.82M0.25,0H0.95M-0.3,-0.25L0.3,-0.25L0,0.3Z'][datum.index]"},
   "symbolFillColor": {"expr": "['#e82020','transparent','#e82020','#1010d0','white','#1010d0'][datum.index]"}}}}},
{"transform": [{"filter": "datum.s === '1H'"}], "mark": {"type": "line", "strokeWidth": 2, "strokeDash": [10, 5, 3, 5]}, "encoding": {"color": {"field": "s", "type": "nominal", "scale": {"domain": ["1L","1H","1D","2L","2H","2D"], "range": ["#e82020","#e82020","#e82020","#1010d0","#1010d0","#1010d0"]}}}},
{"transform": [{"filter": "datum.s === '1D'"}], "mark": {"type": "line", "strokeWidth": 2, "strokeDash": [8, 5]}, "encoding": {"color": {"field": "s", "type": "nominal", "scale": {"domain": ["1L","1H","1D","2L","2H","2D"], "range": ["#e82020","#e82020","#e82020","#1010d0","#1010d0","#1010d0"]}}}},
{"transform": [{"filter": "datum.s === '2L'"}], "mark": {"type": "line", "strokeWidth": 2, "strokeDash": [5, 3]}, "encoding": {"color": {"field": "s", "type": "nominal", "scale": {"domain": ["1L","1H","1D","2L","2H","2D"], "range": ["#e82020","#e82020","#e82020","#1010d0","#1010d0","#1010d0"]}}}},
{"transform": [{"filter": "datum.s === '2H'"}], "mark": {"type": "line", "strokeWidth": 3, "strokeDash": [3, 4]}, "encoding": {"color": {"field": "s", "type": "nominal", "scale": {"domain": ["1L","1H","1D","2L","2H","2D"], "range": ["#e82020","#e82020","#e82020","#1010d0","#1010d0","#1010d0"]}}}},
{"transform": [{"filter": "datum.s === '2D'"}], "mark": {"type": "line", "strokeWidth": 2, "strokeDash": [24, 11]}, "encoding": {"color": {"field": "s", "type": "nominal", "scale": {"domain": ["1L","1H","1D","2L","2H","2D"], "range": ["#e82020","#e82020","#e82020","#1010d0","#1010d0","#1010d0"]}}}},
{"transform": [{"filter": "datum.s === '1L'"}], "mark": {"type": "rule", "strokeWidth": 2.5, "color": "#8a7420"}, "encoding": {"y": {"field": "lo", "type": "quantitative", "title": "Angle [degree]"}, "y2": {"field": "hi"}}},
{"transform": [{"filter": "datum.s === '1H'"}], "mark": {"type": "rule", "strokeWidth": 2.5, "color": "#10108a"}, "encoding": {"y": {"field": "lo", "type": "quantitative", "title": "Angle [degree]"}, "y2": {"field": "hi"}}},
{"transform": [{"filter": "datum.s === '1D'"}], "mark": {"type": "rule", "strokeWidth": 2.5, "color": "#1a6a2a"}, "encoding": {"y": {"field": "lo", "type": "quantitative", "title": "Angle [degree]"}, "y2": {"field": "hi"}}},
{"transform": [{"filter": "datum.s === '2L'"}], "mark": {"type": "rule", "strokeWidth": 2.5, "color": "#111111"}, "encoding": {"y": {"field": "lo", "type": "quantitative", "title": "Angle [degree]"}, "y2": {"field": "hi"}}},
{"transform": [{"filter": "datum.s === '2H'"}], "mark": {"type": "rule", "strokeWidth": 2.5, "color": "#ff2a9a"}, "encoding": {"y": {"field": "lo", "type": "quantitative", "title": "Angle [degree]"}, "y2": {"field": "hi"}}},
{"transform": [{"filter": "datum.s === '2D'"}], "mark": {"type": "rule", "strokeWidth": 2.5, "color": "#40d8ff"}, "encoding": {"y": {"field": "lo", "type": "quantitative", "title": "Angle [degree]"}, "y2": {"field": "hi"}}},
{"transform": [{"filter": "datum.s === '1L'"}], "mark": {"type": "tick", "orient": "horizontal", "size": 7, "thickness": 2, "opacity": 1, "color": "#8a7420"}, "encoding": {"y": {"field": "lo", "type": "quantitative", "title": "Angle [degree]"}}},
{"transform": [{"filter": "datum.s === '1L'"}], "mark": {"type": "tick", "orient": "horizontal", "size": 7, "thickness": 2, "opacity": 1, "color": "#8a7420"}, "encoding": {"y": {"field": "hi", "type": "quantitative", "title": "Angle [degree]"}}},
{"transform": [{"filter": "datum.s === '1H'"}], "mark": {"type": "tick", "orient": "horizontal", "size": 7, "thickness": 2, "opacity": 1, "color": "#10108a"}, "encoding": {"y": {"field": "lo", "type": "quantitative", "title": "Angle [degree]"}}},
{"transform": [{"filter": "datum.s === '1H'"}], "mark": {"type": "tick", "orient": "horizontal", "size": 7, "thickness": 2, "opacity": 1, "color": "#10108a"}, "encoding": {"y": {"field": "hi", "type": "quantitative", "title": "Angle [degree]"}}},
{"transform": [{"filter": "datum.s === '1D'"}], "mark": {"type": "tick", "orient": "horizontal", "size": 7, "thickness": 2, "opacity": 1, "color": "#1a6a2a"}, "encoding": {"y": {"field": "lo", "type": "quantitative", "title": "Angle [degree]"}}},
{"transform": [{"filter": "datum.s === '1D'"}], "mark": {"type": "tick", "orient": "horizontal", "size": 7, "thickness": 2, "opacity": 1, "color": "#1a6a2a"}, "encoding": {"y": {"field": "hi", "type": "quantitative", "title": "Angle [degree]"}}},
{"transform": [{"filter": "datum.s === '2L'"}], "mark": {"type": "tick", "orient": "horizontal", "size": 7, "thickness": 2, "opacity": 1, "color": "#111111"}, "encoding": {"y": {"field": "lo", "type": "quantitative", "title": "Angle [degree]"}}},
{"transform": [{"filter": "datum.s === '2L'"}], "mark": {"type": "tick", "orient": "horizontal", "size": 7, "thickness": 2, "opacity": 1, "color": "#111111"}, "encoding": {"y": {"field": "hi", "type": "quantitative", "title": "Angle [degree]"}}},
{"transform": [{"filter": "datum.s === '2H'"}], "mark": {"type": "tick", "orient": "horizontal", "size": 7, "thickness": 2, "opacity": 1, "color": "#ff2a9a"}, "encoding": {"y": {"field": "lo", "type": "quantitative", "title": "Angle [degree]"}}},
{"transform": [{"filter": "datum.s === '2H'"}], "mark": {"type": "tick", "orient": "horizontal", "size": 7, "thickness": 2, "opacity": 1, "color": "#ff2a9a"}, "encoding": {"y": {"field": "hi", "type": "quantitative", "title": "Angle [degree]"}}},
{"transform": [{"filter": "datum.s === '2D'"}], "mark": {"type": "tick", "orient": "horizontal", "size": 7, "thickness": 2, "opacity": 1, "color": "#40d8ff"}, "encoding": {"y": {"field": "lo", "type": "quantitative", "title": "Angle [degree]"}}},
{"transform": [{"filter": "datum.s === '2D'"}], "mark": {"type": "tick", "orient": "horizontal", "size": 7, "thickness": 2, "opacity": 1, "color": "#40d8ff"}, "encoding": {"y": {"field": "hi", "type": "quantitative", "title": "Angle [degree]"}}},
{"transform": [{"filter": "datum.s === '1L'"}], "mark": {"type": "point", "shape": "circle", "filled": false, "fill": "#e82020", "stroke": "#e82020", "size": 130, "strokeWidth": 1.5, "opacity": 1}},
{"transform": [{"filter": "datum.s === '1H'"}], "mark": {"type": "point", "shape": "circle", "filled": false, "fill": "transparent", "stroke": "#e82020", "size": 120, "strokeWidth": 1.5, "opacity": 1}},
{"transform": [{"filter": "datum.s === '1D'"}], "mark": {"type": "point", "shape": "triangle-up", "filled": false, "fill": "#e82020", "stroke": "#e82020", "size": 110, "strokeWidth": 1.5, "opacity": 1}},
{"transform": [{"filter": "datum.s === '2L'"}], "mark": {"type": "point", "shape": "square", "filled": false, "fill": "#1010d0", "stroke": "#1010d0", "size": 140, "strokeWidth": 1.5, "opacity": 1}},
{"transform": [{"filter": "datum.s === '2H'"}], "mark": {"type": "point", "shape": "square", "filled": false, "fill": "white", "stroke": "#1010d0", "size": 130, "strokeWidth": 1.5, "opacity": 1}},
{"transform": [{"filter": "datum.s === '2D'"}], "mark": {"type": "point", "shape": "triangle-down", "filled": false, "fill": "#1010d0", "stroke": "#1010d0", "size": 110, "strokeWidth": 1.5, "opacity": 1}}
]
},
{"data": {"name": "notes"},
 "mark": {"type": "text", "align": "left", "baseline": "top", "fontSize": 11.5, "lineHeight": 10.8, "color": "#333333"},
 "encoding": {
 "x": {"datum": 255.5, "type": "quantitative", "title": "Z-axis [mm]", "scale": {"domain": [0, 500], "nice": false, "zero": false},
  "axis": {"values": [0,20,40,60,80,100,120,140,160,180,200,220,240,260,280,300,320,340,360,380,400,420,440,460,480,500], "labelExpr": "datum.value % 100 === 0 ? datum.label : ''", "grid": true, "gridColor": {"condition": {"test": "datum.value % 100 === 0", "value": "#2a2ae0"}, "value": "#3a3af5"}, "gridDash": {"condition": {"test": "datum.value % 100 === 0", "value": []}, "value": [2, 3]}, "ticks": false, "domain": false, "labelFontSize": 17, "labelColor": "#333333", "labelPadding": 8, "labelFlush": false, "labelOverlap": false, "titleFontSize": 17, "titleFontWeight": "normal", "titleColor": "#333333", "titlePadding": 5}},
 "y": {"datum": 61.7, "type": "quantitative", "title": "Angle [degree]", "scale": {"domain": [-150, 150], "nice": false, "zero": false},
  "axis": {"values": [-150,-140,-130,-120,-110,-100,-90,-80,-70,-60,-50,-40,-30,-20,-10,0,10,20,30,40,50,60,70,80,90,100,110,120,130,140,150], "labelExpr": "datum.value % 50 === 0 ? datum.label : ''", "grid": true, "gridColor": {"condition": {"test": "datum.value % 50 === 0", "value": "#2a2ae0"}, "value": "#3a3af5"}, "gridDash": {"condition": {"test": "datum.value % 50 === 0", "value": []}, "value": [2, 3]}, "ticks": false, "domain": false, "labelFontSize": 17, "labelColor": "#333333", "labelPadding": 9.5, "labelOverlap": false, "labelFlush": false, "titleFontSize": 17, "titleFontWeight": "normal", "titleColor": "#333333", "titleX": -76}},
 "text": {"field": "lines"}}}
]
}
]
}
]
}
